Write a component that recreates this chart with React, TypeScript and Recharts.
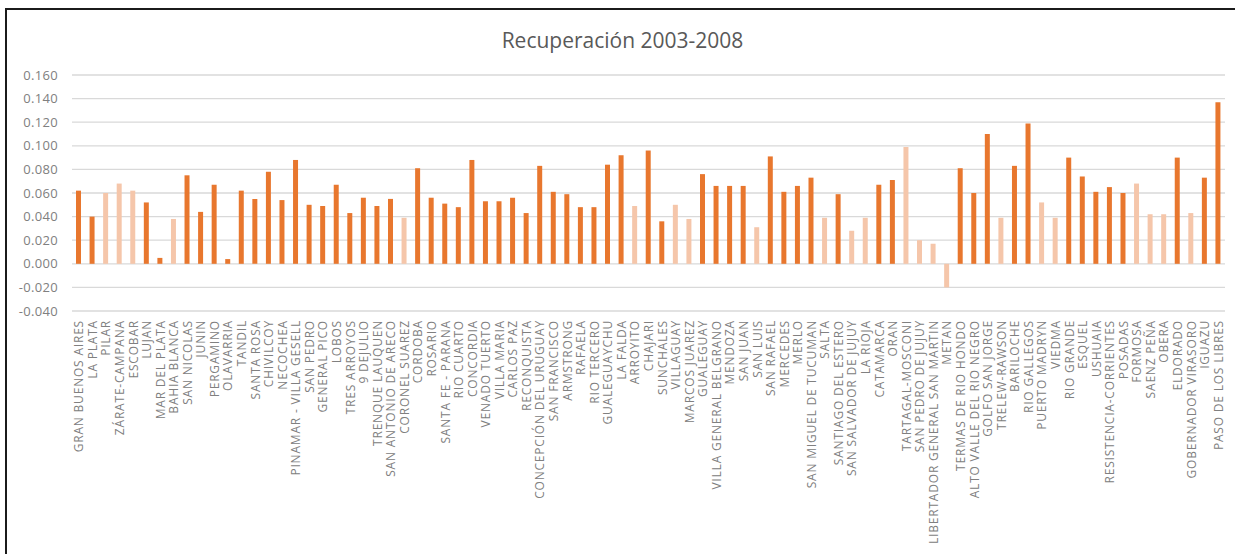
import { BarChart, Bar, XAxis, YAxis, CartesianGrid, Cell } from 'recharts'

const ciudades = [
  'GRAN BUENOS AIRES', 'LA PLATA', 'PILAR', 'ZÁRATE-CAMPANA', 'ESCOBAR', 'LUJAN', 'MAR DEL PLATA',
  'BAHIA BLANCA', 'SAN NICOLAS', 'JUNIN', 'PERGAMINO', 'OLAVARRIA', 'TANDIL', 'SANTA ROSA',
  'CHIVILCOY', 'NECOCHEA', 'PINAMAR - VILLA GESELL', 'SAN PEDRO', 'GENERAL PICO', 'LOBOS',
  'TRES ARROYOS', '9 DEJULIO', 'TRENQUE LAUQUEN', 'SAN ANTONIO DE ARECO', 'CORONEL SUAREZ',
  'CORDOBA', 'ROSARIO', 'SANTA FE - PARANA', 'RIO CUARTO', 'CONCORDIA', 'VENADO TUERTO',
  'VILLA MARIA', 'CARLOS PAZ', 'RECONQUISTA', 'CONCEPCIÓN DEL URUGUAY', 'SAN FRANCISCO',
  'ARMSTRONG', 'RAFAELA', 'RIO TERCERO', 'GUALEGUAYCHU', 'LA FALDA', 'ARROYITO', 'CHAJARI',
  'SUNCHALES', 'VILLAGUAY', 'MARCOS JUAREZ', 'GUALEGUAY', 'VILLA GENERAL BELGRANO', 'MENDOZA',
  'SAN JUAN', 'SAN LUIS', 'SAN RAFAEL', 'MERCEDES', 'MERLO', 'SAN MIGUEL DE TUCUMAN', 'SALTA',
  'SANTIAGO DEL ESTERO', 'SAN SALVADOR DE JUJUY', 'LA RIOJA', 'CATAMARCA', 'ORAN',
  'TARTAGAL-MOSCONI', 'SAN PEDRO DE JUJUY', 'LIBERTADOR GENERAL SAN MARTIN', 'METAN',
  'TERMAS DE RIO HONDO', 'ALTO VALLE DEL RIO NEGRO', 'GOLFO SAN JORGE', 'TRELEW-RAWSON',
  'BARILOCHE', 'RIO GALLEGOS', 'PUERTO MADRYN', 'VIEDMA', 'RIO GRANDE', 'ESQUEL', 'USHUAIA',
  'RESISTENCIA-CORRIENTES', 'POSADAS', 'FORMOSA', 'SAENZ PEÑA', 'OBERA', 'ELDORADO',
  'GOBERNADOR VIRASORO', 'IGUAZU', 'PASO DE LOS LIBRES',
]

const recuperacion = [
  0.062, 0.040, 0.060, 0.068, 0.062, 0.052, 0.005,
  0.038, 0.075, 0.044, 0.067, 0.004, 0.062, 0.055,
  0.078, 0.054, 0.088, 0.050, 0.049, 0.067,
  0.043, 0.056, 0.049, 0.055, 0.039,
  0.081, 0.056, 0.051, 0.048, 0.088, 0.053,
  0.053, 0.056, 0.043, 0.083, 0.061,
  0.059, 0.048, 0.048, 0.084, 0.092, 0.049, 0.096,
  0.036, 0.050, 0.038, 0.076, 0.066, 0.066,
  0.066, 0.031, 0.091, 0.061, 0.066, 0.073, 0.039,
  0.059, 0.028, 0.039, 0.067, 0.071,
  0.099, 0.020, 0.017, -0.020,
  0.081, 0.060, 0.110, 0.039,
  0.083, 0.119, 0.052, 0.039, 0.090, 0.074, 0.061,
  0.065, 0.060, 0.068, 0.042, 0.042, 0.090,
  0.043, 0.073, 0.137,
]

// ciudades que van en tono claro
const claras = [
  'PILAR', 'ZÁRATE-CAMPANA', 'ESCOBAR', 'BAHIA BLANCA', 'CORONEL SUAREZ', 'ARROYITO',
  'VILLAGUAY', 'MARCOS JUAREZ', 'SAN LUIS', 'SALTA', 'SAN SALVADOR DE JUJUY', 'LA RIOJA',
  'TARTAGAL-MOSCONI', 'SAN PEDRO DE JUJUY', 'LIBERTADOR GENERAL SAN MARTIN', 'METAN',
  'TRELEW-RAWSON', 'PUERTO MADRYN', 'VIEDMA', 'FORMOSA', 'SAENZ PEÑA', 'OBERA',
  'GOBERNADOR VIRASORO',
]

const yTicks = [-0.04, -0.02, 0, 0.02, 0.04, 0.06, 0.08, 0.1, 0.12, 0.14, 0.16]

const data = ciudades.map((ciudad, i) => ({ ciudad, valor: recuperacion[i] }))

const FONT = '"Open Sans", "DejaVu Sans", sans-serif'

function CityTick({ x, y, payload }: any) {
  return (
    <text
      x={x}
      y={y}
      transform={`rotate(-90 ${x} ${y})`}
      textAnchor="end"
      dominantBaseline="central"
      fontSize={12}
      letterSpacing={0.8}
      fontFamily={FONT}
      fill="#808080"
    >
      {payload.value}
    </text>
  )
}

export default function App() {
  return (
    <div style={{ position: 'absolute', left: 0, top: 0, width: 1235, height: 554, background: '#fff', overflow: 'hidden' }}>
      <div
        style={{
          position: 'absolute', left: 5, top: 8, width: 1240, height: 560,
          borderLeft: '2px solid #1b1b1b', borderTop: '2px solid #1b1b1b',
        }}
      />
      <div
        style={{
          position: 'absolute', left: 0, width: 1245, top: 26, textAlign: 'center',
          fontFamily: FONT, fontSize: 21, color: '#595959', lineHeight: '28px',
        }}
      >
        Recuperación 2003-2008
      </div>
      <div style={{ position: 'absolute', left: 0, top: 0 }}>
        <BarChart width={1235} height={554} data={data} margin={{ top: 75, right: 10, left: 0, bottom: 0 }}>
          <CartesianGrid vertical={false} stroke="#d9d9d9" strokeWidth={1.3} />
          <XAxis
            dataKey="ciudad"
            interval={0}
            height={243}
            axisLine={false}
            tickLine={false}
            tickSize={0}
            tickMargin={9}
            tick={<CityTick />}
          />
          <YAxis
            width={72}
            domain={[-0.04, 0.16]}
            ticks={yTicks}
            interval={0}
            axisLine={false}
            tickLine={false}
            tickSize={0}
            tickMargin={14}
            tickFormatter={(v: number) => v.toFixed(3)}
            tick={{ fontSize: 13, fill: '#808080', fontFamily: FONT, letterSpacing: 0.3 }}
          />
          <Bar dataKey="valor" barSize={5} isAnimationActive={false}>
            {data.map(d => (
              <Cell key={d.ciudad} fill={claras.includes(d.ciudad) ? '#f5c6aa' : '#e8772e'} />
            ))}
          </Bar>
        </BarChart>
      </div>
    </div>
  )
}
